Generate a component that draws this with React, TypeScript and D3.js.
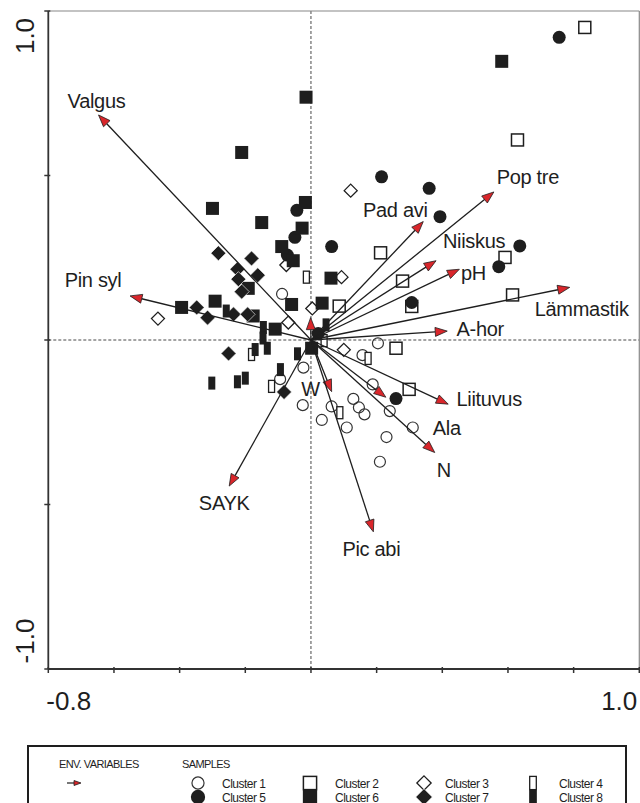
import React, { useEffect, useRef } from "react";
import * as d3 from "d3";

const W = 640, H = 803;

// environmental variables (arrow tips, axis units)
const envNames = ["Valgus", "Pin syl", "Pop tre", "Pad avi", "Niiskus", "pH", "Lämmastik", "A-hor", "Liituvus", "Ala", "N", "W", "Pic abi", "SAYK", ""];
const envX = [-0.647, -0.551, 0.557, 0.342, 0.381, 0.452, 0.788, 0.415, 0.418, 0.228, 0.377, 0.063, 0.190, -0.249, -0.001];
const envY = [0.684, 0.134, 0.450, 0.360, 0.241, 0.215, 0.160, 0.027, -0.195, -0.174, -0.342, -0.157, -0.583, -0.444, 0.068];

// sample scores per cluster [axis1, axis2]
const cluster1 = [[-0.088, 0.140], [-0.023, -0.084], [-0.025, -0.198], [-0.094, -0.119], [0.033, -0.243], [0.063, -0.202], [0.109, -0.266], [0.129, -0.179], [0.146, -0.205], [0.163, -0.226], [0.157, -0.046], [0.204, -0.010], [0.188, -0.135], [0.240, -0.216], [0.310, -0.266], [0.230, -0.295], [0.210, -0.370]];
const cluster2 = [[0.834, 0.950], [0.629, 0.608], [0.212, 0.265], [0.591, 0.251], [0.279, 0.179], [0.614, 0.137], [0.307, 0.102], [0.086, 0.103], [0.259, -0.025], [0.299, -0.150]];
const cluster3 = [[0.121, 0.454], [-0.075, 0.228], [0.093, 0.191], [0.004, 0.096], [-0.069, 0.053], [-0.466, 0.065], [0.100, -0.030]];
const cluster4 = [[-0.014, 0.191], [0.040, -0.002], [0.174, -0.056], [0.088, -0.221], [-0.181, -0.044], [-0.120, -0.141]];
const cluster5 = [[0.756, 0.920], [0.215, 0.496], [0.360, 0.461], [0.393, 0.375], [0.063, 0.284], [0.636, 0.286], [0.572, 0.223], [0.307, 0.114], [0.259, -0.178], [-0.043, 0.394], [-0.049, 0.312], [-0.072, 0.258], [0.022, 0.020]];
const cluster6 = [[-0.015, 0.738], [0.581, 0.847], [-0.211, 0.570], [-0.300, 0.400], [-0.150, 0.357], [-0.017, 0.418], [-0.027, 0.340], [-0.089, 0.284], [-0.054, 0.241], [-0.191, 0.157], [0.061, 0.188], [-0.059, 0.108], [0.034, 0.112], [-0.394, 0.099], [-0.292, 0.118], [-0.176, 0.073], [-0.109, 0.033], [0.002, -0.025]];
const cluster7 = [[-0.282, 0.264], [-0.181, 0.248], [-0.224, 0.215], [-0.162, 0.197], [-0.221, 0.185], [-0.211, 0.147], [-0.348, 0.099], [-0.315, 0.068], [-0.236, 0.078], [-0.193, 0.078], [-0.251, -0.041], [-0.082, -0.158]];
const cluster8 = [[-0.258, 0.088], [-0.145, 0.038], [-0.146, 0.006], [-0.170, -0.029], [-0.133, -0.025], [-0.041, -0.042], [-0.093, -0.090], [-0.302, -0.131], [-0.224, -0.127], [-0.200, -0.116], [0.046, 0.046]];
const clusters = [cluster1, cluster2, cluster3, cluster4, cluster5, cluster6, cluster7, cluster8];
const clusterNames = ["Cluster 1", "Cluster 2", "Cluster 3", "Cluster 4", "Cluster 5", "Cluster 6", "Cluster 7", "Cluster 8"];

const xTicks = [-0.8, -0.6, -0.4, -0.2, 0, 0.2, 0.4, 0.6, 0.8, 1.0];
const yTicks = [-1.0, -0.5, 0, 0.5, 1.0];
const xTickLabels = ["-0.8", "1.0"];
const yTickLabels = ["-1.0", "1.0"];

// label nudges from the arrow tip, px
const labelNudge: Record<string, number[]> = {
  "Valgus": [-2, -7], "Pin syl": [-37, -9], "Pop tre": [34, -8], "Pad avi": [-28, -5],
  "Niiskus": [38, -13], "pH": [14, 11], "Lämmastik": [12, 29], "A-hor": [33, 5],
  "Liituvus": [41, 2], "Ala": [61, 38], "N": [9, 24], "W": [-21, 4], "Pic abi": [-2, 24], "SAYK": [-5, 24],
};

const FONT = "'Liberation Sans', Arial, Helvetica, sans-serif";
const RED = "#d9262b";
const INK = "#1e1e1e";

// draws a sample symbol for cluster index k at (cx, cy)
function symbol(g: any, k: number, cx: number, cy: number, scale = 1) {
  const open = k < 4;
  const fill = open ? "#fff" : INK;
  const sw = open ? 1.3 : 0;
  const type = k % 4;
  if (type === 0) {
    g.append("circle").attr("cx", cx).attr("cy", cy).attr("r", (open ? 5.5 : 6.5) * scale)
      .attr("fill", open ? "none" : INK).attr("stroke", "#333").attr("stroke-width", open ? 1.2 : 0);
  } else if (type === 1) {
    const s = (open ? 12 : 13) * scale;
    g.append("rect").attr("x", cx - s / 2).attr("y", cy - s / 2).attr("width", s).attr("height", s)
      .attr("fill", fill).attr("stroke", INK).attr("stroke-width", open ? 1.5 : 0);
  } else if (type === 2) {
    const d = (open ? 6.5 : 7.5) * scale;
    g.append("path").attr("d", `M${cx},${cy - d}L${cx + d},${cy}L${cx},${cy + d}L${cx - d},${cy}Z`)
      .attr("fill", fill).attr("stroke", open ? INK : "#fff").attr("stroke-width", open ? sw : 0.6);
  } else {
    const w = (open ? 6 : 7) * scale, h = (open ? 12 : 13) * scale;
    g.append("rect").attr("x", cx - w / 2).attr("y", cy - h / 2).attr("width", w).attr("height", h)
      .attr("fill", fill).attr("stroke", INK).attr("stroke-width", sw);
  }
}

function arrow(g: any, x0: number, y0: number, x1: number, y1: number, len = 12, half = 4.5, sw = 1.3) {
  const dx = x1 - x0, dy = y1 - y0;
  const L = Math.sqrt(dx * dx + dy * dy) || 1;
  const ux = dx / L, uy = dy / L;
  const bx = x1 - ux * len, by = y1 - uy * len;
  g.append("line").attr("x1", x0).attr("y1", y0).attr("x2", bx).attr("y2", by)
    .attr("stroke", INK).attr("stroke-width", sw);
  g.append("path")
    .attr("d", `M${x1},${y1}L${bx - uy * half},${by + ux * half}L${bx + uy * half},${by - ux * half}Z`)
    .attr("fill", RED).attr("stroke", INK).attr("stroke-width", 0.8).attr("stroke-linejoin", "miter");
}

function drawChart(node: SVGSVGElement) {
  const svg = d3.select(node);
  svg.selectAll("*").remove();

  const x = d3.scaleLinear().domain([-0.8, 1.0]).range([48.3, 639.3]);
  const y = d3.scaleLinear().domain([-1, 1]).range([669, 11]);

  const plot = svg.append("g");

  // zero lines
  plot.append("line").attr("x1", x(0)).attr("x2", x(0)).attr("y1", y(1)).attr("y2", y(-1))
    .attr("stroke", "#333").attr("stroke-width", 0.9).attr("stroke-dasharray", "3,2");
  plot.append("line").attr("x1", x(-0.8)).attr("x2", x(1)).attr("y1", y(0)).attr("y2", y(0))
    .attr("stroke", "#333").attr("stroke-width", 0.9).attr("stroke-dasharray", "3,2");

  // frame: top / right light, left / bottom dark
  plot.append("line").attr("x1", x(-0.8)).attr("x2", x(1)).attr("y1", y(1)).attr("y2", y(1))
    .attr("stroke", "#888").attr("stroke-width", 1.2);
  plot.append("line").attr("x1", x(1)).attr("x2", x(1)).attr("y1", y(1)).attr("y2", y(-1))
    .attr("stroke", "#888").attr("stroke-width", 1.2);
  plot.append("line").attr("x1", x(-0.8)).attr("x2", x(-0.8)).attr("y1", y(1)).attr("y2", y(-1))
    .attr("stroke", "#333").attr("stroke-width", 1.8);
  plot.append("line").attr("x1", x(-0.8)).attr("x2", x(1)).attr("y1", y(-1)).attr("y2", y(-1))
    .attr("stroke", "#333").attr("stroke-width", 1.8);

  xTicks.forEach((t) => {
    plot.append("line").attr("x1", x(t)).attr("x2", x(t)).attr("y1", y(-1) - 2).attr("y2", y(-1) + 4)
      .attr("stroke", "#333").attr("stroke-width", 1.5);
  });
  yTicks.forEach((t) => {
    plot.append("line").attr("x1", x(-0.8) - 4).attr("x2", x(-0.8) + 2).attr("y1", y(t)).attr("y2", y(t))
      .attr("stroke", "#333").attr("stroke-width", 1.5);
  });

  // tick labels
  xTickLabels.forEach((lab) => {
    const v = +lab;
    plot.append("text").attr("x", x(v) - 2).attr("y", 710)
      .attr("text-anchor", v < 0 ? "start" : "end")
      .attr("font-family", FONT).attr("font-size", 26).attr("fill", INK).text(lab);
  });
  yTickLabels.forEach((lab) => {
    const v = +lab;
    const cy = v > 0 ? y(v) + 25 : y(v) - 28;
    plot.append("text").attr("transform", `translate(34,${cy}) rotate(-90)`)
      .attr("text-anchor", "middle")
      .attr("font-family", FONT).attr("font-size", 26).attr("fill", INK).text(lab);
  });

  // samples
  const pts = svg.append("g");
  clusters.forEach((cl, k) => {
    cl.forEach((p) => symbol(pts, k, x(p[0]), y(p[1])));
  });

  // biplot arrows
  const arr = svg.append("g");
  envNames.forEach((name, i) => {
    const tx = x(envX[i]), ty = y(envY[i]);
    arrow(arr, x(0), y(0), tx, ty);
    if (name) {
      const nd = labelNudge[name] || [0, 0];
      arr.append("text").attr("x", tx + nd[0]).attr("y", ty + nd[1])
        .attr("text-anchor", "middle").attr("font-family", FONT).attr("font-size", 20)
        .attr("letter-spacing", -0.3).attr("fill", INK).text(name);
    }
  });

  // legend
  const leg = svg.append("g");
  leg.append("rect").attr("x", 28).attr("y", 746).attr("width", 598).attr("height", 80)
    .attr("fill", "none").attr("stroke", INK).attr("stroke-width", 2);
  leg.append("text").attr("x", 59).attr("y", 768).attr("font-family", FONT).attr("font-size", 11)
    .attr("letter-spacing", -0.6).attr("fill", INK).text("ENV. VARIABLES");
  leg.append("text").attr("x", 182).attr("y", 768).attr("font-family", FONT).attr("font-size", 11)
    .attr("letter-spacing", -0.6).attr("fill", INK).text("SAMPLES");
  arrow(leg, 67, 783, 81, 783, 7, 2.5, 1.2);

  const colSym = [198, 310, 424, 533];
  const colTxt = [222, 335, 445, 559];
  const rowY = [783, 797];
  clusterNames.forEach((name, k) => {
    const col = k % 4, row = Math.floor(k / 4);
    symbol(leg, k, colSym[col], rowY[row], 1.1);
    leg.append("text").attr("x", colTxt[col]).attr("y", rowY[row] + 4.5).attr("font-family", FONT)
      .attr("font-size", 12).attr("letter-spacing", -0.5).attr("fill", INK).text(name);
  });
}

export default function App() {
  const ref = useRef<SVGSVGElement>(null);
  useEffect(() => {
    if (ref.current) drawChart(ref.current);
  }, []);
  return (
    <svg ref={ref} width={W} height={H} style={{ position: "absolute", left: 0, top: 0, background: "#fff" }} />
  );
}
